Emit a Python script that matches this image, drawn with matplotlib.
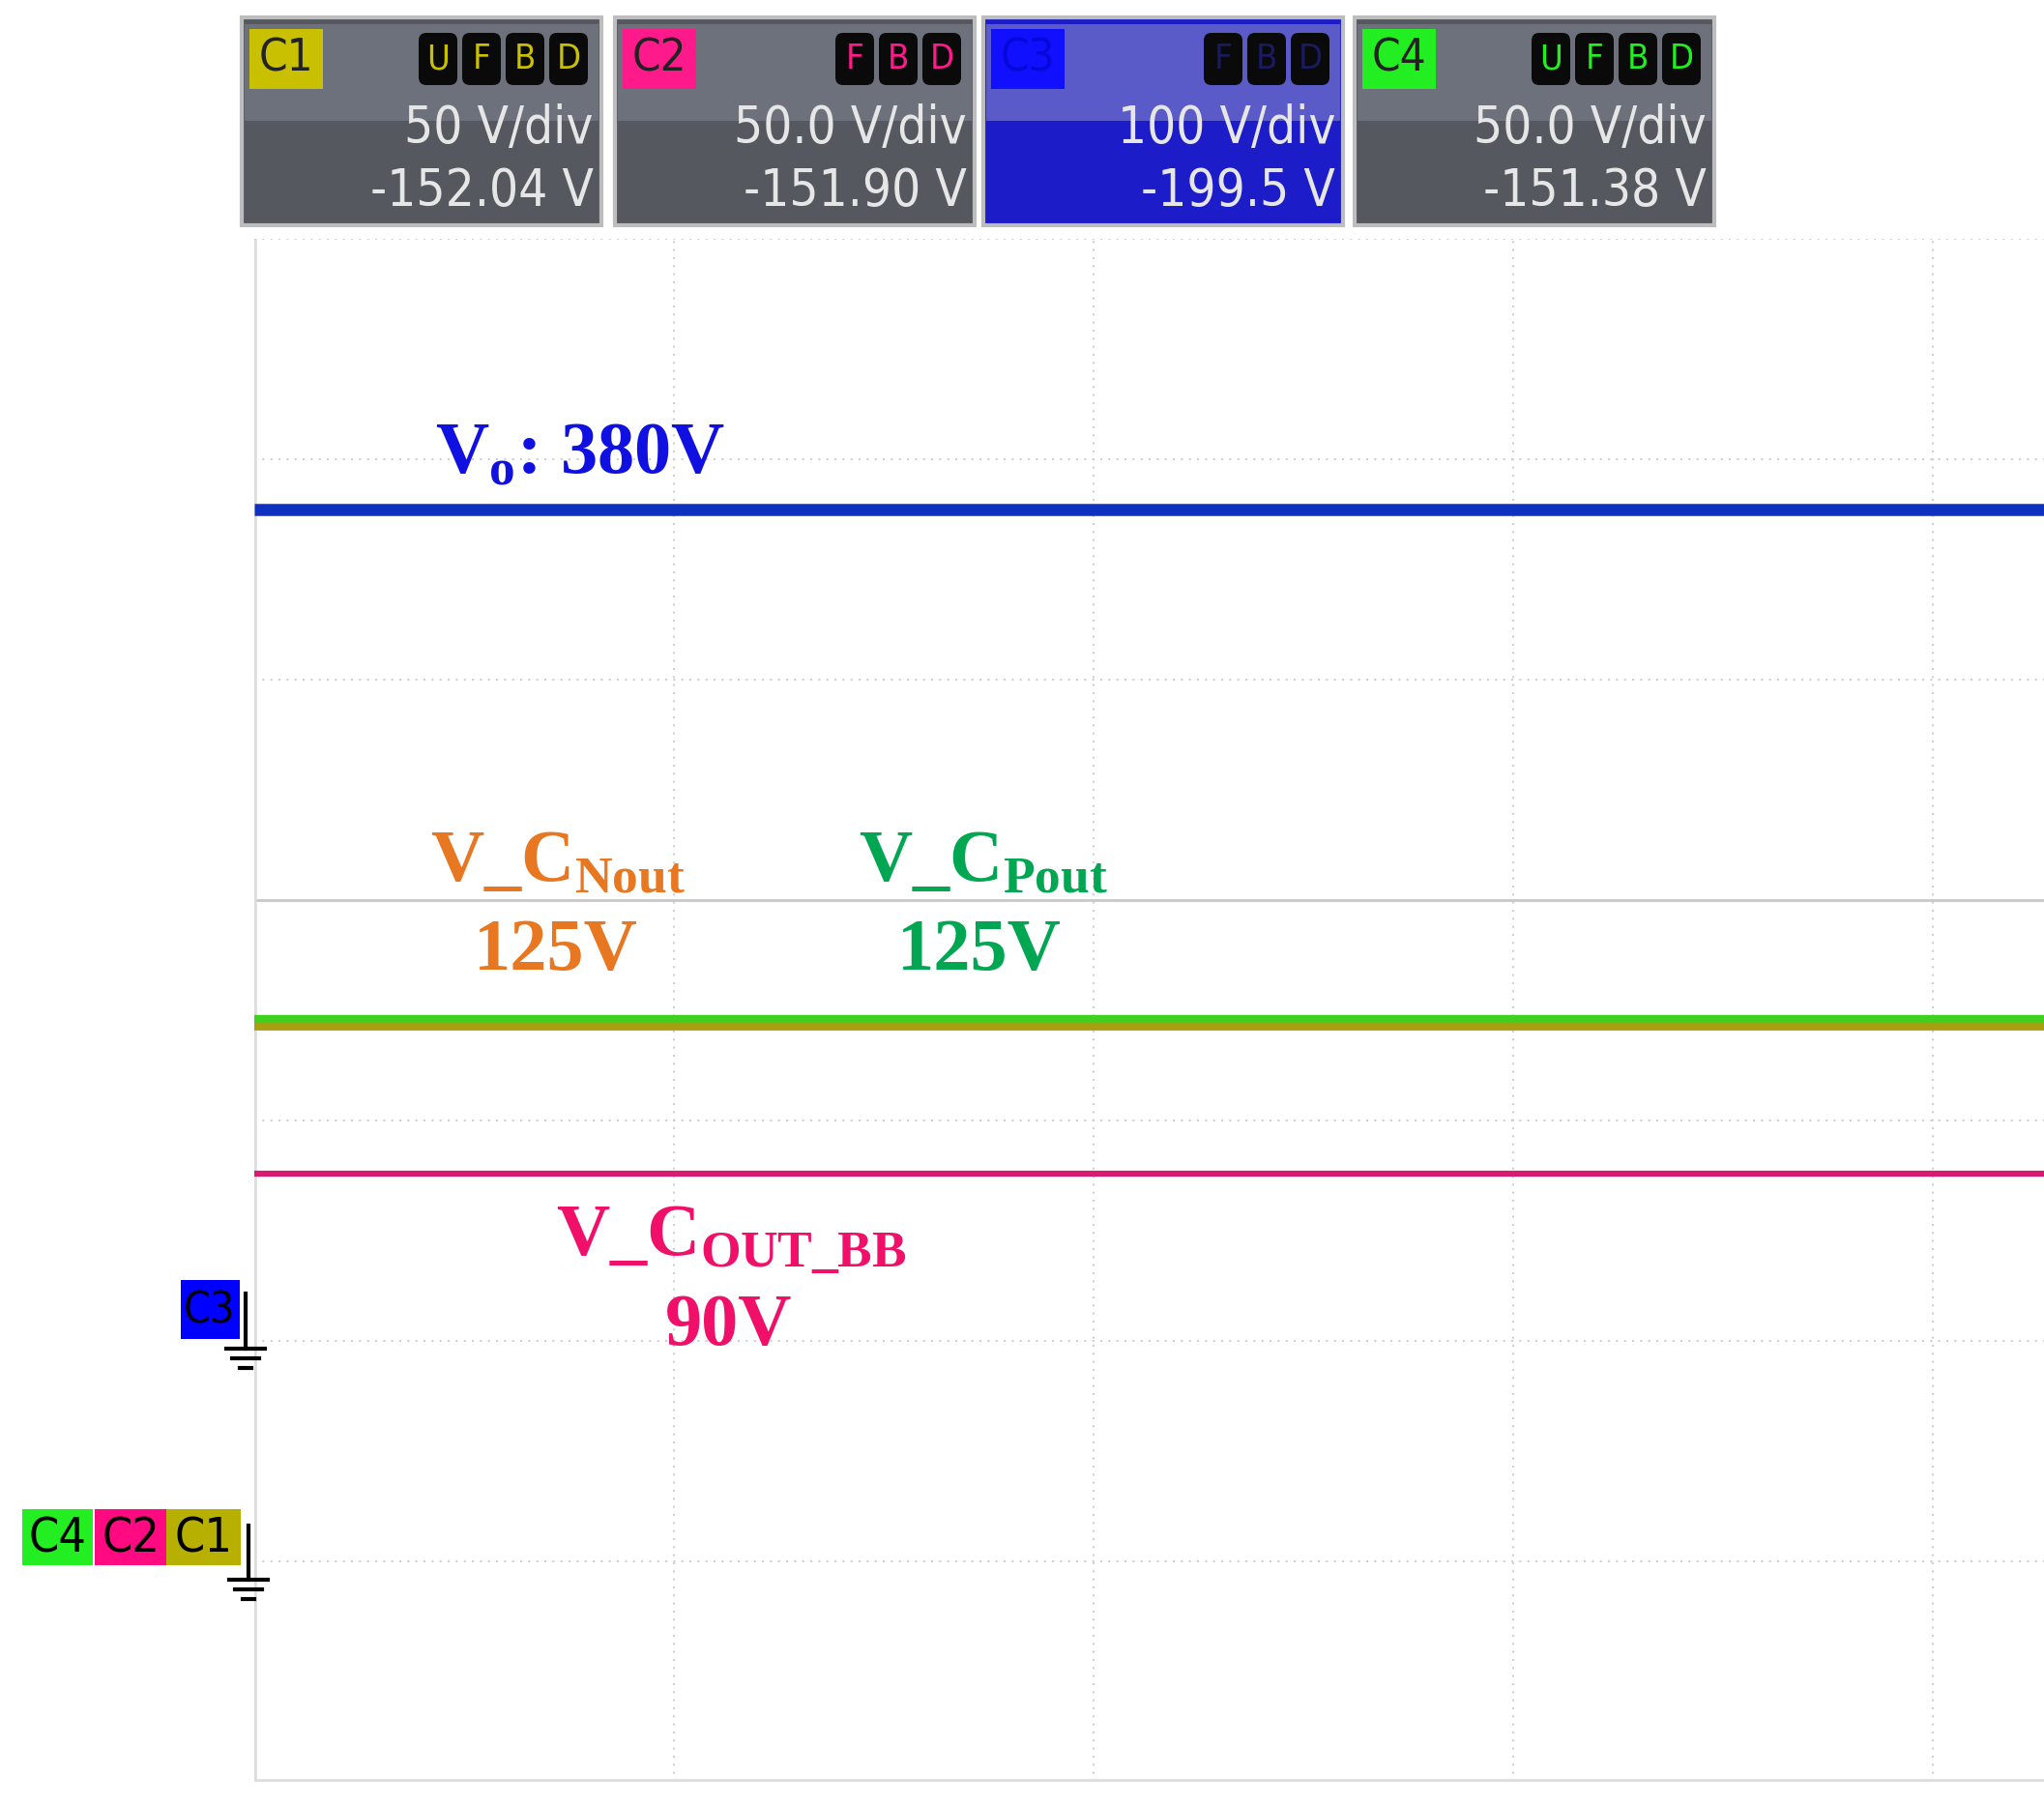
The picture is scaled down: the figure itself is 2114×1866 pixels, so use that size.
import matplotlib
matplotlib.use('Agg')

import matplotlib.pyplot as plt
from matplotlib.patches import Rectangle, FancyBboxPatch

# scope settings
channels = ['C1', 'C2', 'C3', 'C4']
volts_per_div = ['50 V/div', '50.0 V/div', '100 V/div', '50.0 V/div']
offsets = ['-152.04 V', '-151.90 V', '-199.5 V', '-151.38 V']
tag_colors = ['#c8c000', '#ff1a8c', '#1010ff', '#22ee22']
flags = [['U', 'F', 'B', 'D'], ['F', 'B', 'D'], ['F', 'B', 'D'], ['U', 'F', 'B', 'D']]

# traces (levels)
trace_names = ['Vo', 'V_CNout', 'V_CPout', 'V_COUT_BB']
trace_volts = [377, 122, 123, 88]
trace_scale = [100, 50, 50, 50]
trace_ground = [2, 1, 1, 1]          # ground marker position in divisions
trace_colors = ['#1030c0', '#a8a010', '#40d020', '#d81b72']
trace_widths = [9, 10, 6, 4.5]

W, H = 2114, 1866
fig = plt.figure(figsize=(W / 100, H / 100), dpi=100)
fig.patch.set_facecolor('white')

# screen area in pixels
left, right, bottom, div_px = 263, W, 1843, 228
ax = fig.add_axes([left / W, 1 - bottom / H, (right - left) / W, 7 * div_px / H])
n_x = (right - left) / 434
ax.set_xlim(0, n_x)
ax.set_ylim(0, 7)
for s in ax.spines.values():
    s.set_visible(False)
ax.set_xticks([])
ax.set_yticks([])
grid_c = '#d0d0d0'
for i in range(1, 5):
    ax.axvline(i, color=grid_c, lw=1.5, ls=(0, (1, 3)))
for j in range(1, 7):
    if j == 4:
        ax.axhline(j, color='#c8c8c8', lw=2)
    else:
        ax.axhline(j, color=grid_c, lw=1.5, ls=(0, (1, 3)))
ax.axvline(0, color='#dddddd', lw=4)
ax.axhline(0, color='#dddddd', lw=4)
ax.axhline(7, color=grid_c, lw=1.5, ls=(0, (1, 3)))

for v, sc, g, c, w in zip(trace_volts, trace_scale, trace_ground, trace_colors, trace_widths):
    y = g + v / sc
    ax.plot([0, n_x], [y, y], color=c, lw=w, solid_capstyle='butt')

# overlay in pixel coordinates
ov = fig.add_axes([0, 0, 1, 1])
ov.set_xlim(0, W)
ov.set_ylim(H, 0)
ov.axis('off')
ov.patch.set_alpha(0)

narrow = dict(family='DejaVu Sans', fontstretch='condensed')
box_x = [250, 636, 1017, 1401]
for k in range(4):
    x0 = box_x[k]
    face = '#1c1cc8' if k == 2 else '#55585f'
    top = '#5a5ac8' if k == 2 else '#6c717c'
    ov.add_patch(Rectangle((x0, 18), 372, 215, facecolor=face, edgecolor='#bdbdbd', lw=3))
    ov.add_patch(Rectangle((x0 + 3, 25), 366, 100, facecolor=top, edgecolor='none'))
    ov.add_patch(Rectangle((x0 + 8, 30), 76, 62, facecolor=tag_colors[k], edgecolor='none'))
    ov.text(x0 + 46, 61, channels[k], ha='center', va='center', fontsize=34,
            color='#222222' if k != 2 else '#0808d8', **narrow)
    fl = flags[k]
    for m, letter in enumerate(fl):
        bx = x0 + 362 - (len(fl) - m) * 45
        ov.add_patch(FancyBboxPatch((bx + 3, 36), 36, 50, boxstyle='round,pad=2,rounding_size=8',
                                    facecolor='#0a0a0a', edgecolor='none'))
        ov.text(bx + 21, 61, letter, ha='center', va='center', fontsize=26,
                color=tag_colors[k] if k != 2 else '#1a1a60', **narrow)
    ov.text(x0 + 364, 133, volts_per_div[k], ha='right', va='center', fontsize=38,
            color='#e6e6e6', **narrow)
    ov.text(x0 + 364, 198, offsets[k], ha='right', va='center', fontsize=38,
            color='#e6e6e6', **narrow)

# ground markers
def ground(x, y_top, y_gnd):
    ov.plot([x, x], [y_top, y_gnd], color='black', lw=3)
    for wdt, dy in [(40, 0), (28, 10), (12, 20)]:
        ov.plot([x - wdt / 2, x + wdt / 2], [y_gnd + dy, y_gnd + dy], color='black', lw=3)

ov.add_patch(Rectangle((187, 1324), 61, 61, facecolor='#0000ff', edgecolor='none'))
ov.text(217, 1356, 'C3', ha='center', va='center', fontsize=32, color='black', **narrow)
ground(254, 1338, 1395)
for x0, wd, c, t in [(23, 73, '#22ee22', 'C4'), (98, 74, '#ff0a80', 'C2'), (172, 77, '#b8b000', 'C1')]:
    ov.add_patch(Rectangle((x0, 1561), wd, 58, facecolor=c, edgecolor='none'))
    ov.text(x0 + wd / 2, 1591, t, ha='center', va='center', fontsize=36, color='black', **narrow)
ground(257, 1578, 1634)

serif = 'Liberation Serif'
fs = 55
ov.text(450, 470, r'V$_\mathregular{o}$: 380V', color='#1010e0', fontsize=fs,
        fontweight='bold', family=serif, va='center')
ov.text(445, 892, r'V_C$_\mathregular{Nout}$', color='#e87722', fontsize=fs,
        fontweight='bold', family=serif, va='center')
ov.text(490, 984, '125V', color='#e87722', fontsize=fs, fontweight='bold', family=serif, va='center')
ov.text(888, 892, r'V_C$_\mathregular{Pout}$', color='#00a651', fontsize=fs,
        fontweight='bold', family=serif, va='center')
ov.text(928, 984, '125V', color='#00a651', fontsize=fs, fontweight='bold', family=serif, va='center')
ov.text(575, 1282, r'V_C$_\mathregular{OUT\_BB}$', color='#f0106a', fontsize=fs,
        fontweight='bold', family=serif, va='center')
ov.text(688, 1372, '90V', color='#f0106a', fontsize=fs, fontweight='bold', family=serif, va='center')

fig.savefig('out.png', dpi=100)
